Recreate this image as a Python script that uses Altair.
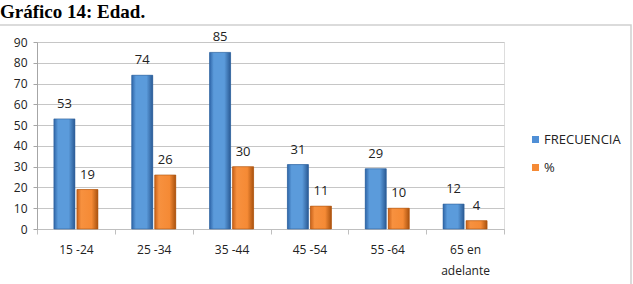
import altair as alt
import pandas as pd

categories = ["15 -24", "25 -34", "35 -44", "45 -54", "55 -64", "65 en adelante"]
frecuencia = [53, 74, 85, 31, 29, 12]
porcentaje = [19, 26, 30, 11, 10, 4]
series = ["FRECUENCIA", "%"]
title_text = "Gráfico 14: Edad."

rows = []
for c, f, p in zip(categories, frecuencia, porcentaje):
    rows.append({"cat": c, "serie": series[0], "v": f})
    rows.append({"cat": c, "serie": series[1], "v": p})
df = pd.DataFrame(rows)

FONT = "Open Sans"
colors = ["#4F8FD6", "#F58A35"]

blue_grad = alt.Gradient(
    gradient="linear", x1=0, x2=1, y1=0, y2=0,
    stops=[alt.GradientStop(color="#2F66A8", offset=0),
           alt.GradientStop(color="#5B9BDB", offset=0.2),
           alt.GradientStop(color="#5B9BDB", offset=0.7),
           alt.GradientStop(color="#2A5A94", offset=1)])
orange_grad = alt.Gradient(
    gradient="linear", x1=0, x2=1, y1=0, y2=0,
    stops=[alt.GradientStop(color="#C9621A", offset=0),
           alt.GradientStop(color="#F7913F", offset=0.2),
           alt.GradientStop(color="#F58A35", offset=0.7),
           alt.GradientStop(color="#A9520F", offset=1)])

x_enc = alt.X("cat:N", sort=categories,
              scale=alt.Scale(domain=categories, paddingInner=0, paddingOuter=0),
              axis=alt.Axis(title=None, grid=False, labelAngle=0, tickBand="extent",
                            domainColor="#BFBFBF", tickColor="#BFBFBF", tickSize=5,
                            labelPadding=10, labelFont=FONT, labelFontSize=12,
                            labelColor="#222222", labelLineHeight=21,
                            labelExpr="datum.label == '65 en adelante' ? ['65 en', 'adelante'] : datum.label"))
xo_enc = alt.XOffset("serie:N", sort=series,
                     scale=alt.Scale(domain=series, paddingInner=0.087, paddingOuter=0.735))
y_enc = alt.Y("v:Q", scale=alt.Scale(domain=[0, 90], nice=False),
              axis=alt.Axis(title=None, values=list(range(0, 91, 10)), gridColor="#C6C6C6",
                            domainColor="#A6A6A6", tickColor="#A6A6A6", tickSize=4,
                            labelPadding=6, labelFont=FONT, labelFontSize=12,
                            labelColor="#222222"))

base = alt.Chart(df)

bars = base.mark_bar().encode(
    x=x_enc, xOffset=xo_enc, y=y_enc,
    color=alt.Color("serie:N", sort=series,
                    scale=alt.Scale(domain=series, range=colors),
                    legend=alt.Legend(title=None, orient="none", legendX=492, legendY=91,
                                      symbolType="square", symbolSize=49,
                                      symbolStrokeWidth=0, rowPadding=14,
                                      labelFont=FONT, labelFontSize=13,
                                      labelColor="#222222", labelOffset=2)))

g_blue = base.transform_filter(alt.datum.serie == "FRECUENCIA").mark_bar(
    fill=blue_grad, stroke="#2F5F98", strokeWidth=0.6).encode(x=x_enc, xOffset=xo_enc, y=y_enc)
g_orange = base.transform_filter(alt.datum.serie == "%").mark_bar(
    fill=orange_grad, stroke="#A9520F", strokeWidth=0.6).encode(x=x_enc, xOffset=xo_enc, y=y_enc)

labels = base.mark_text(baseline="bottom", dy=-8, font=FONT, fontSize=13, color="#222222").encode(
    x=x_enc, xOffset=xo_enc, y=y_enc, text="v:Q")

title = alt.Chart(pd.DataFrame({"t": [title_text]})).mark_text(
    align="left", baseline="alphabetic", font="Liberation Serif", fontWeight="bold",
    fontSize=19, color="#000000").encode(
    text="t:N", x=alt.value(-37), y=alt.value(-24))

frame = alt.Chart(pd.DataFrame({"t": [title_text]})).mark_rect(
    fill=None, stroke="#D0D0D0", strokeWidth=1.5).encode(
    x=alt.value(-40), x2=alt.value(594), y=alt.value(-17), y2=alt.value(270))

chart = alt.layer(frame, title, bars, g_blue, g_orange, labels).properties(
    width=467, height=187,
    autosize=alt.AutoSizeParams(type="none"),
    padding={"left": 37, "top": 42, "right": 129, "bottom": 55},
).configure_view(stroke=None).configure(background="white")

chart.save("out.html", embed_options={"renderer": "svg", "actions": False})
